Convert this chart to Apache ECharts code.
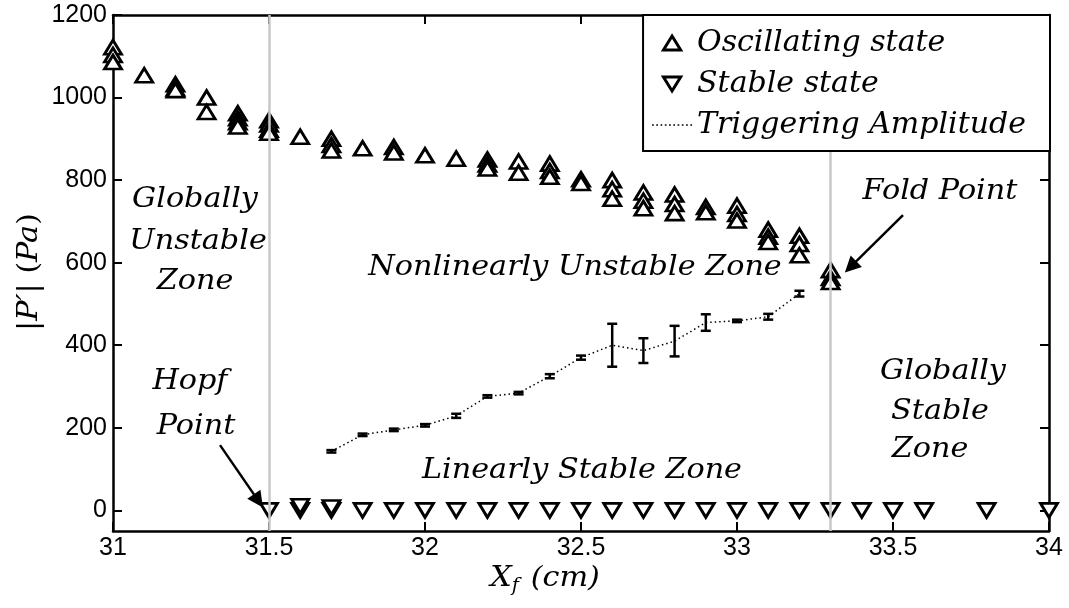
<!DOCTYPE html>
<html>
<head>
<meta charset="utf-8">
<script src="https://cdn.jsdelivr.net/npm/echarts@6/dist/echarts.min.js"></script>
<style>
  html, body { margin: 0; padding: 0; background: #fff; }
  #chart { width: 1069px; height: 608px; }
</style>
</head>
<body>
<div id="chart"></div>
<script>
// Tick values of both axes
const xTicks = [31, 31.5, 32, 32.5, 33, 33.5, 34];
const yTicks = [0, 200, 400, 600, 800, 1000, 1200];

// Oscillating state: [Xf (cm), |P'| (Pa)], several runs per location
const oscillating = [
  [31.0, 1122], [31.0, 1103], [31.0, 1086],
  [31.1, 1054],
  [31.2, 1032], [31.2, 1022], [31.2, 1018],
  [31.3, 1000], [31.3, 965],
  [31.4, 962], [31.4, 950], [31.4, 940], [31.4, 930],
  [31.5, 945], [31.5, 935], [31.5, 922], [31.5, 915],
  [31.6, 905],
  [31.7, 900], [31.7, 885], [31.7, 872],
  [31.8, 877],
  [31.9, 880], [31.9, 867],
  [32.0, 860],
  [32.1, 852],
  [32.2, 850], [32.2, 838], [32.2, 828],
  [32.3, 845], [32.3, 818],
  [32.4, 840], [32.4, 822], [32.4, 808],
  [32.5, 802], [32.5, 793],
  [32.6, 800], [32.6, 778], [32.6, 755],
  [32.7, 770], [32.7, 750], [32.7, 732],
  [32.8, 765], [32.8, 742], [32.8, 720],
  [32.9, 735], [32.9, 722],
  [33.0, 738], [33.0, 718], [33.0, 702],
  [33.1, 680], [33.1, 663], [33.1, 650],
  [33.2, 665], [33.2, 645], [33.2, 618],
  [33.3, 582], [33.3, 563], [33.3, 553]
];

// Stable state: [Xf (cm), |P'| (Pa)]
const stable = [
  [31.5, 0], [31.6, 0], [31.6, 10], [31.7, 0], [31.7, 7],
  [31.8, 0], [31.9, 0], [32.0, 0], [32.1, 0], [32.2, 0], [32.3, 0],
  [32.4, 0], [32.5, 0], [32.6, 0], [32.7, 0], [32.8, 0], [32.9, 0],
  [33.0, 0], [33.1, 0], [33.2, 0], [33.3, 0], [33.4, 0], [33.5, 0],
  [33.6, 0], [33.8, 0], [34.0, 0]
];

// Triggering amplitude (mean and half-spread)
const trigX   = [31.7, 31.8, 31.9, 32.0, 32.1, 32.2, 32.3, 32.4, 32.5, 32.6, 32.7, 32.8, 32.9, 33.0, 33.1, 33.2];
const trigY   = [143, 183, 195, 206, 229, 276, 284, 325, 370, 400, 387, 410, 455, 459, 469, 525];
const trigErr = [3, 3, 3, 3, 5, 3, 3, 5, 5, 52, 30, 37, 20, 3, 7, 7];

// Hopf and fold point locations
const hopfX = 31.5;
const foldX = 33.3;

const serif = 'DejaVu Serif';
const sans = 'Liberation Sans';
const trigPairs = trigX.map((x, i) => [x, trigY[i]]);
const trigBars = trigX.map((x, i) => [x, trigY[i], trigErr[i]]);

// Legend glyphs: open triangles and a short dotted rule
const upIcon = 'path://M8,0L16,13L0,13Z';
const downIcon = 'path://M0,0L16,0L8,13Z';
let dots = '';
for (let i = 0; i < 10; i++) dots += 'M' + (i * 4) + ',0h1.6v1.6h-1.6Z';
const dotIcon = 'path://' + dots;

const chart = echarts.init(document.getElementById('chart'), null, { renderer: 'canvas' });

const axisLine = { show: true, onZero: false, lineStyle: { color: '#000', width: 2.5 } };
const axisTick = { show: true, inside: true, length: 9, lineStyle: { color: '#000', width: 2 } };
const markerStyle = { color: '#fff', borderColor: '#000', borderWidth: 2.8, opacity: 1 };

const ann = (text, x, y) => ({
  type: 'text', x: x, y: y, z: 20, scaleX: 1.08,
  style: { text: text, font: 'italic 28px "' + serif + '"', fill: '#000', align: 'center', verticalAlign: 'middle' }
});

chart.setOption({
  animation: false,
  backgroundColor: '#fff',
  grid: { left: 113, right: 20, top: 15, bottom: 77, containLabel: false, outerBoundsMode: 'none' },
  xAxis: [
    {
      type: 'value', min: 31, max: 34, position: 'bottom',
      axisLine: axisLine,
      axisTick: Object.assign({ customValues: xTicks }, axisTick),
      axisLabel: { customValues: xTicks, formatter: v => String(v), fontFamily: sans, fontSize: 25, color: '#000', margin: 5 },
      splitLine: { show: false }
    },
    {
      type: 'value', min: 31, max: 34, position: 'top',
      axisLine: axisLine,
      axisTick: Object.assign({ customValues: xTicks }, axisTick),
      axisLabel: { show: false },
      splitLine: { show: false }
    }
  ],
  yAxis: [
    {
      type: 'value', min: -50, max: 1200, position: 'left',
      axisLine: axisLine,
      axisTick: Object.assign({ customValues: yTicks }, axisTick),
      axisLabel: { customValues: yTicks, formatter: v => String(v), fontFamily: sans, fontSize: 25, color: '#000', margin: 6 },
      splitLine: { show: false }
    },
    {
      type: 'value', min: -50, max: 1200, position: 'right',
      axisLine: axisLine,
      axisTick: Object.assign({ customValues: yTicks }, axisTick),
      axisLabel: { show: false },
      splitLine: { show: false }
    }
  ],
  legend: {
    data: [
      { name: 'Oscillating state', icon: upIcon },
      { name: 'Stable state', icon: downIcon },
      { name: 'Triggering Amplitude', icon: dotIcon }
    ],
    orient: 'vertical',
    right: 19, top: 15,
    z: 10,
    backgroundColor: '#fff',
    borderColor: '#000', borderWidth: 2, borderRadius: 0,
    padding: [13, 24, 11, 9],
    itemWidth: 40, itemHeight: 14, itemGap: 11,
    symbolKeepAspect: true,
    selectedMode: false,
    itemStyle: { borderWidth: 3 },
    textStyle: { fontFamily: serif, fontStyle: 'italic', fontSize: 30, color: '#000', lineHeight: 30 }
  },
  graphic: [
    ann('Globally', 195, 200), ann('Unstable', 198, 242), ann('Zone', 195, 282),
    ann('Nonlinearly Unstable Zone', 575, 268),
    ann('Fold Point', 940, 192),
    ann('Hopf', 190, 382), ann('Point', 196, 427),
    ann('Linearly Stable Zone', 582, 471),
    ann('Globally', 943, 372), ann('Stable', 940, 412), ann('Zone', 930, 450),
    {
      type: 'text', x: 545, y: 579, z: 20, scaleX: 1.08,
      style: {
        text: '{i|X}{s|f}{i| (cm)}', align: 'center', verticalAlign: 'middle', fill: '#000',
        rich: {
          i: { fontFamily: serif, fontStyle: 'italic', fontSize: 28, fill: '#000' },
          s: { fontFamily: serif, fontStyle: 'italic', fontSize: 18, fill: '#000', padding: [14, 2, 0, 0] }
        }
      }
    },
    {
      type: 'text', x: 30, y: 272, rotation: Math.PI / 2, z: 20, scaleX: 1.08,
      style: {
        text: "{u||}{i|P′}{u|| (}{i|Pa}{u|)}", align: 'center', verticalAlign: 'middle', fill: '#000',
        rich: {
          i: { fontFamily: serif, fontStyle: 'italic', fontSize: 28, fill: '#000' },
          u: { fontFamily: serif, fontSize: 28, fill: '#000' }
        }
      }
    }
  ],
  series: [
    {
      name: 'Oscillating state', type: 'scatter', z: 2,
      data: oscillating,
      symbol: 'triangle', symbolSize: [17, 14],
      itemStyle: markerStyle
    },
    {
      name: 'Stable state', type: 'scatter', z: 2,
      data: stable,
      symbol: 'triangle', symbolRotate: 180, symbolSize: [17, 14],
      itemStyle: markerStyle
    },
    {
      name: 'Triggering Amplitude', type: 'line', z: 2,
      data: trigPairs,
      symbol: 'none',
      lineStyle: { color: '#000', width: 1.5, type: [1.5, 3] },
      itemStyle: { color: '#000' }
    },
    {
      type: 'custom', z: 3,
      data: trigBars,
      encode: { x: 0, y: 1 },
      renderItem: function (params, api) {
        const x = api.value(0), y = api.value(1), e = api.value(2);
        const top = api.coord([x, y + e]);
        const bot = api.coord([x, y - e]);
        const hw = 5;
        const st = { stroke: '#000', lineWidth: 2.5 };
        return {
          type: 'group',
          children: [
            { type: 'line', shape: { x1: top[0], y1: top[1], x2: bot[0], y2: bot[1] }, style: st },
            { type: 'line', shape: { x1: top[0] - hw, y1: top[1], x2: top[0] + hw, y2: top[1] }, style: st },
            { type: 'line', shape: { x1: bot[0] - hw, y1: bot[1], x2: bot[0] + hw, y2: bot[1] }, style: st }
          ]
        };
      }
    },
    {
      // zone boundaries at the Hopf and fold points
      type: 'line', z: 5, data: [], silent: true,
      markLine: {
        silent: true, animation: false,
        symbol: ['none', 'none'],
        label: { show: false },
        lineStyle: { color: '#c8c8c8', width: 2.5, type: 'solid' },
        data: [{ xAxis: hopfX }, { xAxis: foldX }]
      }
    },
    {
      // arrows pointing at the Hopf and fold points
      type: 'line', z: 6, data: [], silent: true,
      markLine: {
        silent: true, animation: false,
        symbol: ['none', 'triangle'], symbolSize: 16,
        label: { show: false },
        lineStyle: { color: '#000', width: 2.5, type: 'solid' },
        itemStyle: { color: '#000' },
        data: [
          [{ coord: [31.343, 158] }, { coord: [31.466, 23] }],
          [{ coord: [33.532, 715] }, { coord: [33.364, 590] }]
        ]
      }
    }
  ]
});
</script>
</body>
</html>
